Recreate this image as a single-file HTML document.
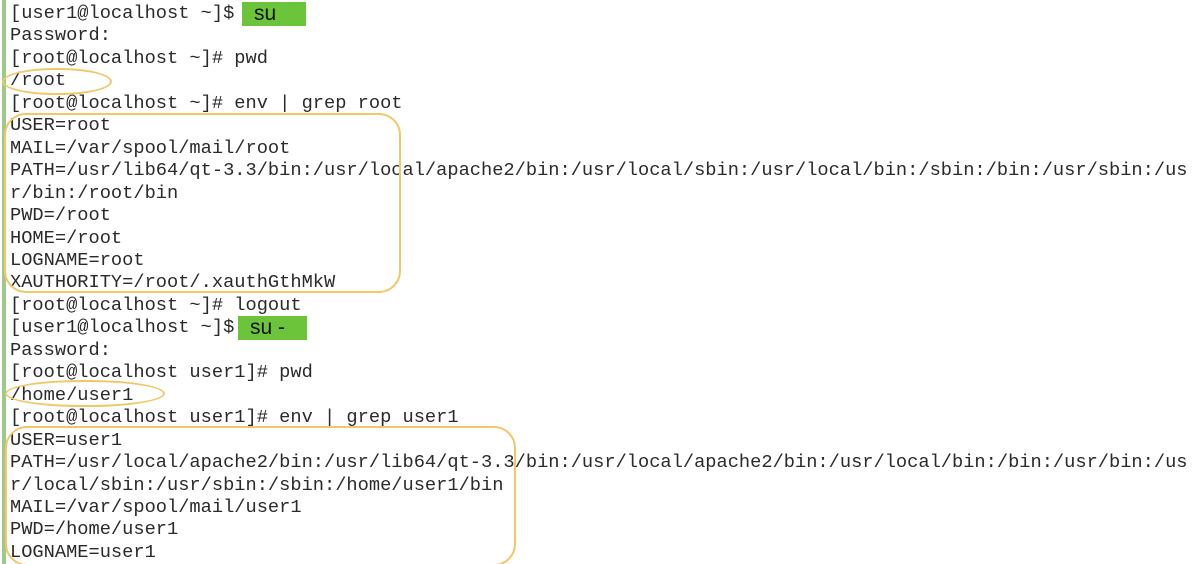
<!DOCTYPE html>
<html><head><meta charset="utf-8"><style>
html,body{margin:0;padding:0;background:#fff;width:1196px;height:564px;overflow:hidden;position:relative}
.bar{position:absolute;left:2px;top:0;width:4px;height:564px;background:#9fc88a}
pre{position:absolute;left:10px;top:2px;margin:0;font-family:"Liberation Mono",monospace;font-size:18.7px;line-height:22.46px;color:#2a2a2a;letter-spacing:0}
.g{position:absolute;background:#6cc43a;font-family:"Liberation Sans",sans-serif;font-size:21px;color:#111;line-height:23px;padding-left:12px;box-sizing:border-box}
.o{position:absolute;border:2px solid #f0c868;box-sizing:border-box}
</style></head><body>
<div class="bar"></div>
<pre>[user1@localhost ~]$
Password:
[root@localhost ~]# pwd
/root
[root@localhost ~]# env | grep root
USER=root
MAIL=/var/spool/mail/root
PATH=/usr/lib64/qt-3.3/bin:/usr/local/apache2/bin:/usr/local/sbin:/usr/local/bin:/sbin:/bin:/usr/sbin:/us
r/bin:/root/bin
PWD=/root
HOME=/root
LOGNAME=root
XAUTHORITY=/root/.xauthGthMkW
[root@localhost ~]# logout
[user1@localhost ~]$
Password:
[root@localhost user1]# pwd
/home/user1
[root@localhost user1]# env | grep user1
USER=user1
PATH=/usr/local/apache2/bin:/usr/lib64/qt-3.3/bin:/usr/local/apache2/bin:/usr/local/bin:/bin:/usr/bin:/us
r/local/sbin:/usr/sbin:/sbin:/home/user1/bin
MAIL=/var/spool/mail/user1
PWD=/home/user1
LOGNAME=user1</pre>
<div class="g" style="left:242px;top:2px;width:64px;height:24px">su</div>
<div class="g" style="left:238px;top:316px;width:69px;height:24px">su -</div>
<div class="o" style="left:2px;top:68px;width:110px;height:27px;border-radius:55px/14px"></div>
<div class="o" style="left:4px;top:113px;width:397px;height:180px;border-radius:22px"></div>
<div class="o" style="left:5px;top:380px;width:160px;height:27px;border-radius:80px/14px"></div>
<div class="o" style="left:5px;top:426px;width:511px;height:140px;border-radius:22px"></div>
</body></html>
